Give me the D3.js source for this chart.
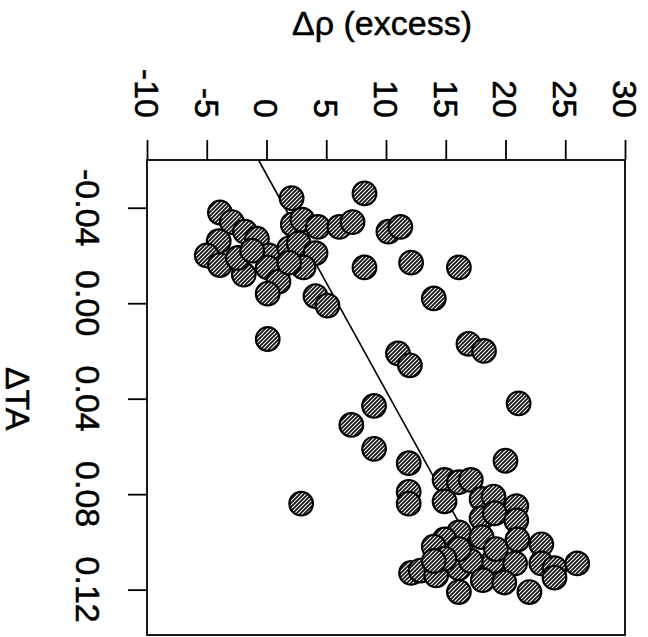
<!DOCTYPE html>
<html>
<head>
<meta charset="utf-8">
<script src="https://cdn.jsdelivr.net/npm/d3@7"></script>
<style>
  html, body { margin: 0; padding: 0; background: #fff; }
  svg { display: block; }
  text { font-family: "Liberation Sans", Arial, Helvetica, sans-serif; fill: #000; stroke: #000; stroke-width: 0.5px; }
</style>
</head>
<body>
<svg id="chart" width="648" height="637"></svg>
<script>
// Δρ (excess) values of each point
const dRho = [2.1, -3.9, -2.9, -1.8, -0.8, -4.0, -5.0, -3.9, -1.9, -2.4,
  0.2, 0.1, 1.0, 0.1, 2.2, 3.0, 4.3, 6.1, 1.9, 2.7,
  4.1, 3.1, 1.9, 4.1, 5.1, -1.2, 0.1, 8.2, 7.2, 10.2,
  11.2, 8.2, 12.1, 16.1, 14.0, 16.9, 18.2, 11.0, 12.0, 21.1,
  9.0, 7.1, 9.0, 11.9, 11.9, 11.9, 2.9, 20.0, 14.9, 16.1,
  17.1, 14.9, 18.0, 19.0, 20.9, 18.0, 19.1, 20.9, 16.1, 14.9,
  14.0, 18.0, 21.0, 23.0, 19.0, 20.8, 23.0, 24.1, 26.0, 24.1,
  12.1, 12.9, 14.2, 16.1, 17.1, 18.1, 19.9, 16.1, 22.0, 19.2,
  16.1, 14.9, 14.0];
// ΔTA values of each point
const dTA = [-0.044, -0.038, -0.034, -0.030, -0.027, -0.026, -0.020, -0.016, -0.012, -0.019,
  -0.020, -0.015, -0.009, -0.004, -0.033, -0.035, -0.032, -0.032, -0.023, -0.025,
  -0.021, -0.015, -0.017, -0.003, 0.001, -0.022, 0.015, -0.046, -0.034, -0.030,
  -0.032, -0.015, -0.017, -0.015, -0.002, 0.017, 0.020, 0.021, 0.026, 0.042,
  0.043, 0.051, 0.061, 0.067, 0.079, 0.084, 0.084, 0.066, 0.074, 0.075,
  0.074, 0.083, 0.082, 0.081, 0.085, 0.090, 0.088, 0.091, 0.096, 0.099,
  0.102, 0.098, 0.099, 0.101, 0.108, 0.109, 0.109, 0.111, 0.109, 0.115,
  0.113, 0.112, 0.114, 0.111, 0.108, 0.116, 0.117, 0.121, 0.121, 0.103,
  0.103, 0.107, 0.108];
// regression line end points
const lineRho = [-0.67, 19.2];
const lineTA = [-0.06, 0.12];
// ticks
const rhoTicks = [-10, -5, 0, 5, 10, 15, 20, 25, 30];
const taTicks = [-0.04, 0.00, 0.04, 0.08, 0.12];
const rhoTickLabels = ["-10", "-5", "0", "5", "10", "15", "20", "25", "30"];
const taTickLabels = ["-0.04", "0.00", "0.04", "0.08", "0.12"];
const xTitle = "Δρ (excess)";
const yTitle = "ΔTA";

const svg = d3.select("#chart");
const x = d3.scaleLinear().domain([-10, 30]).range([147, 625]);
const y = d3.scaleLinear().domain([-0.06, 0.139]).range([160, 635]);

// hatch pattern
const defs = svg.append("defs");
const pat = defs.append("pattern")
  .attr("id", "hatch").attr("patternUnits", "userSpaceOnUse")
  .attr("width", 4).attr("height", 4);
pat.append("rect").attr("width", 4).attr("height", 4).attr("fill", "#111");
pat.append("path").attr("d", "M0,4 L4,0 M-1,1 L1,-1 M3,5 L5,3")
  .attr("stroke", "#fff").attr("stroke-width", 1.1);

// frame
svg.append("rect")
  .attr("x", x(-10)).attr("y", y(-0.06))
  .attr("width", x(30) - x(-10)).attr("height", y(0.139) - y(-0.06))
  .attr("fill", "none").attr("stroke", "#000").attr("stroke-width", 1.8);

// top axis
const topAxis = d3.axisTop(x).tickValues(rhoTicks).tickSize(20).tickFormat("");
const gTop = svg.append("g").attr("transform", `translate(0,${y(-0.06)})`).call(topAxis);
gTop.select(".domain").remove();
gTop.selectAll(".tick line").attr("stroke", "#000").attr("stroke-width", 1.8);
svg.append("g").selectAll("text").data(rhoTicks).join("text")
  .attr("transform", (d) => `translate(${x(d)},118) rotate(90)`)
  .attr("text-anchor", "end").attr("dy", "0.36em")
  .style("font-size", "34px")
  .text((d, i) => rhoTickLabels[i]);

// left axis
const leftAxis = d3.axisLeft(y).tickValues(taTicks).tickSize(19).tickFormat("");
const gLeft = svg.append("g").attr("transform", `translate(${x(-10)},0)`).call(leftAxis);
gLeft.select(".domain").remove();
gLeft.selectAll(".tick line").attr("stroke", "#000").attr("stroke-width", 1.8);
svg.append("g").selectAll("text").data(taTicks).join("text")
  .attr("transform", (d) => `translate(88,${y(d)}) rotate(90)`)
  .attr("text-anchor", "middle").attr("dy", "0.36em")
  .style("font-size", "34px")
  .text((d, i) => taTickLabels[i]);

// titles
svg.append("text").attr("x", 292).attr("y", 35)
  .attr("text-anchor", "start").style("font-size", "34px").text(xTitle);
svg.append("text")
  .attr("transform", `translate(18,${y(0.04)}) rotate(90)`)
  .attr("text-anchor", "middle").attr("dy", "0.36em")
  .style("font-size", "34px").text(yTitle);

// regression line
svg.append("line")
  .attr("x1", x(lineRho[0])).attr("y1", y(lineTA[0]))
  .attr("x2", x(lineRho[1])).attr("y2", y(lineTA[1]))
  .attr("stroke", "#000").attr("stroke-width", 1.6);

// points
const pts = dRho.map((r, i) => ({ r, t: dTA[i] }));
svg.append("g").selectAll("circle").data(pts).join("circle")
  .attr("cx", (d) => x(d.r)).attr("cy", (d) => y(d.t))
  .attr("r", 11.8)
  .attr("fill", "url(#hatch)")
  .attr("stroke", "#000").attr("stroke-width", 2.2);
</script>
</body>
</html>
